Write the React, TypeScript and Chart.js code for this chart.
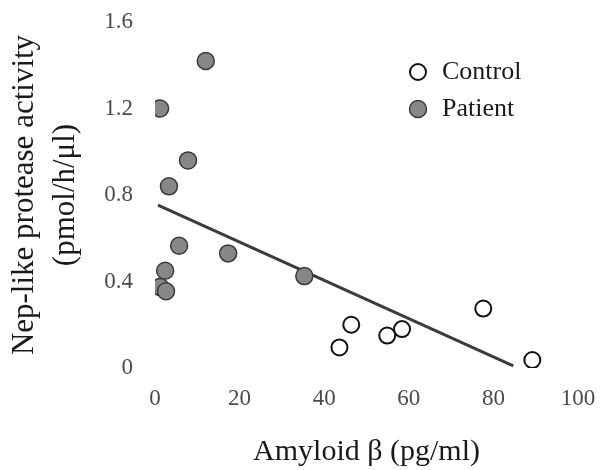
import React, { useEffect, useRef } from "react";
import { Chart, registerables } from "chart.js";

Chart.register(...registerables);

// ---- data ----
const seriesLabels = ["Control", "Patient"];
const controlX = [77.6, 46.4, 43.6, 54.9, 58.4, 89.2];
const controlY = [0.275, 0.2, 0.095, 0.15, 0.18, 0.037];
const patientX = [12, 1.2, 7.8, 3.3, 5.7, 17.3, 2.4, 1.2, 2.6, 35.3];
const patientY = [1.42, 1.2, 0.96, 0.84, 0.565, 0.53, 0.45, 0.375, 0.355, 0.425];
const fitX = [0.7, 84.7];
const fitY = [0.753, 0.01];
const xTickLabels = ["0", "20", "40", "60", "80", "100"];
const yTickLabels = ["0", "0.4", "0.8", "1.2", "1.6"];
const xTitle = "Amyloid β (pg/ml)";
const yTitle = ["Nep-like protease activity", "(pmol/h/μl)"];

const SERIF = '"Liberation Serif", "Times New Roman", serif';

const zip = (xs: number[], ys: number[]) => xs.map((x, i) => ({ x, y: ys[i] }));

const legendPlugin = {
  id: "customLegend",
  afterDraw(chart: any) {
    const ctx = chart.ctx;
    const ds = chart.data.datasets.filter((d: any) => seriesLabels.includes(d.label));
    ctx.save();
    ds.forEach((d: any, i: number) => {
      const cy = 72 + i * 37;
      const cx = 418;
      ctx.beginPath();
      ctx.arc(cx, cy, d.pointRadius, 0, Math.PI * 2);
      ctx.fillStyle = d.backgroundColor;
      ctx.fill();
      ctx.lineWidth = d.borderWidth;
      ctx.strokeStyle = d.borderColor;
      ctx.stroke();
      ctx.fillStyle = "#1a1a1a";
      ctx.font = `26px ${SERIF}`;
      ctx.textAlign = "left";
      ctx.textBaseline = "middle";
      ctx.fillText(d.label, 442, cy);
    });
    ctx.restore();
  },
};

export default function App() {
  const ref = useRef<HTMLCanvasElement>(null);
  useEffect(() => {
    if (!ref.current) return;
    const chart = new Chart(ref.current, {
      type: "scatter",
      data: {
        datasets: [
          {
            label: "Control",
            data: zip(controlX, controlY),
            pointRadius: 8,
            backgroundColor: "#ffffff",
            borderColor: "#111111",
            borderWidth: 2,
            order: 1,
          },
          {
            label: "Patient",
            data: zip(patientX, patientY),
            pointRadius: 8.5,
            backgroundColor: "#878787",
            borderColor: "#3a3a3a",
            borderWidth: 1.5,
            order: 1,
          },
          {
            label: "fit",
            data: zip(fitX, fitY),
            showLine: true,
            pointRadius: 0,
            borderColor: "#3c3c3c",
            borderWidth: 3,
            order: 3,
          } as any,
        ],
      },
      options: {
        responsive: false,
        animation: false,
        layout: { padding: { left: 0, right: 28, top: 22, bottom: 0 } },
        plugins: {
          legend: { display: false },
          tooltip: { enabled: false },
        },
        scales: {
          x: {
            type: "linear",
            min: 0,
            max: 100,
            grid: { display: false, drawTicks: false },
            border: { display: false },
            ticks: {
              stepSize: 20,
              padding: 17,
              color: "#4a4a4a",
              font: { family: SERIF, size: 23 },
              callback: (_v: any, i: number) => xTickLabels[i],
            },
            title: {
              display: true,
              text: xTitle,
              color: "#1a1a1a",
              font: { family: SERIF, size: 30, lineHeight: 1.2 },
              padding: { top: 0, bottom: 0 },
            },
            afterFit: (s: any) => {
              s.height = 102;
              s.paddingLeft = 0;
              s.paddingRight = 0;
            },
          },
          y: {
            type: "linear",
            min: 0,
            max: 1.6,
            grid: { display: false, drawTicks: false },
            border: { display: false },
            ticks: {
              stepSize: 0.4,
              padding: 22,
              color: "#4a4a4a",
              font: { family: SERIF, size: 23 },
              callback: (_v: any, i: number) => yTickLabels[i],
            },
            title: {
              display: true,
              text: yTitle,
              color: "#1a1a1a",
              font: { family: SERIF, size: 31, lineHeight: 1.32 },
              padding: { top: 4, bottom: 0 },
            },
            afterFit: (s: any) => {
              s.width = 155;
              s.paddingTop = 0;
              s.paddingBottom = 0;
            },
          },
        },
      },
      plugins: [legendPlugin],
    });
    return () => chart.destroy();
  }, []);
  return (
    <div style={{ position: "absolute", left: 0, top: 0, width: 606, height: 470, background: "#fff" }}>
      <canvas ref={ref} width={606} height={470} style={{ display: "block" }} />
    </div>
  );
}
